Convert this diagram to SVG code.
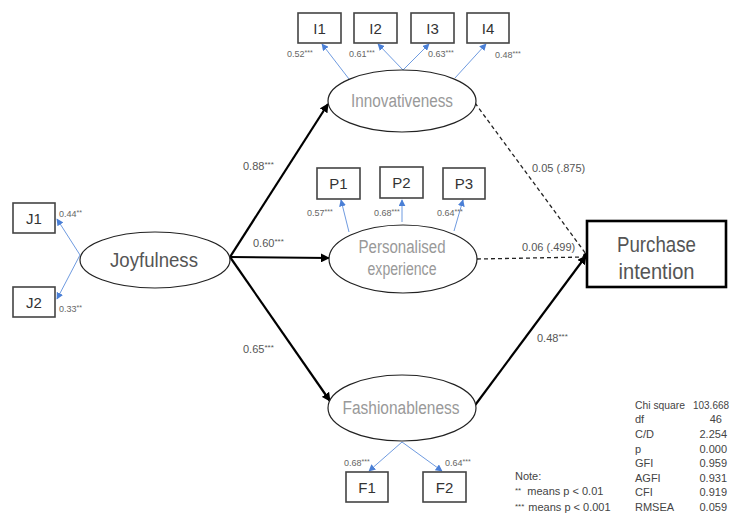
<svg xmlns="http://www.w3.org/2000/svg" width="732" height="519" viewBox="0 0 732 519">
<defs>
<style>
text{font-family:"Liberation Sans Narrow","Liberation Sans",Arial,sans-serif;}
.box{fill:#fff;stroke:#444;stroke-width:1.6;}
.ell{fill:#fff;stroke:#222;stroke-width:1.2;}
.bl{font-size:15px;fill:#333;text-anchor:middle;}
.lat{font-size:18px;fill:#999;text-anchor:middle;}
.sm{font-size:9px;fill:#666;}
.pl{font-size:11px;fill:#555;}
.st{font-size:11px;fill:#444;}
.blue{stroke:#6f9be0;stroke-width:1;fill:none;marker-end:url(#ab);}
.blk{stroke:#000;stroke-width:2.2;fill:none;marker-end:url(#ak);}
.dash{stroke:#222;stroke-width:1.3;fill:none;stroke-dasharray:4 3;}
</style>
<marker id="ab" viewBox="0 0 10 10" refX="9" refY="5" markerWidth="7" markerHeight="7" orient="auto" markerUnits="userSpaceOnUse"><path d="M0,0 L10,5 L0,10 z" fill="#4a7fd6"/></marker>
<marker id="ak" viewBox="0 0 10 10" refX="9" refY="5" markerWidth="9" markerHeight="9" orient="auto" markerUnits="userSpaceOnUse"><path d="M0,0 L10,5 L0,10 z" fill="#000"/></marker>
</defs>
<rect width="732" height="519" fill="#fff"/>
<g id="connectors">
<line class="blue" x1="349" y1="79" x2="322" y2="44"/>
<line class="blue" x1="403" y1="70" x2="378" y2="44"/>
<line class="blue" x1="403" y1="70" x2="429" y2="44"/>
<line class="blue" x1="455" y1="78" x2="486" y2="44"/>
<line class="blue" x1="349" y1="232" x2="341" y2="200"/>
<line class="blue" x1="402" y1="222" x2="402" y2="200"/>
<line class="blue" x1="454" y1="231" x2="463" y2="200"/>
<line class="blue" x1="80" y1="255" x2="57" y2="219"/>
<line class="blue" x1="80" y1="255" x2="57" y2="299"/>
<line class="blue" x1="402" y1="442" x2="369" y2="471"/>
<line class="blue" x1="402" y1="442" x2="442" y2="471"/>
<line class="blk" x1="230" y1="257" x2="328" y2="104"/>
<line class="blk" x1="230" y1="257" x2="329" y2="258"/>
<line class="blk" x1="230" y1="257" x2="330" y2="401"/>
<line class="blk" x1="473" y1="408" x2="586" y2="256"/>
<line class="dash" x1="475" y1="103" x2="586" y2="254"/>
<line class="dash" x1="477" y1="259" x2="586" y2="257"/>
<circle cx="586" cy="256" r="3" fill="#000"/>
<text class="pl" x="243" y="170">0.88<tspan font-size="8" dy="-3">***</tspan></text>
<text class="pl" x="253" y="247">0.60<tspan font-size="8" dy="-3">***</tspan></text>
<text class="pl" x="243" y="353">0.65<tspan font-size="8" dy="-3">***</tspan></text>
<text class="pl" x="532" y="172">0.05 (.875)</text>
<text class="pl" x="522" y="251">0.06 (.499)</text>
<text class="pl" x="537" y="342">0.48<tspan font-size="8" dy="-3">***</tspan></text>
<text class="sm" x="287" y="57">0.52<tspan font-size="7" dy="-2">***</tspan></text>
<text class="sm" x="349" y="57">0.61<tspan font-size="7" dy="-2">***</tspan></text>
<text class="sm" x="428" y="57">0.63<tspan font-size="7" dy="-2">***</tspan></text>
<text class="sm" x="495" y="58">0.48<tspan font-size="7" dy="-2">***</tspan></text>
<text class="sm" x="307" y="216">0.57<tspan font-size="7" dy="-2">***</tspan></text>
<text class="sm" x="374" y="216">0.68<tspan font-size="7" dy="-2">***</tspan></text>
<text class="sm" x="437" y="216">0.64<tspan font-size="7" dy="-2">***</tspan></text>
<text class="sm" x="59" y="217">0.44<tspan font-size="7" dy="-2">**</tspan></text>
<text class="sm" x="59" y="312">0.33<tspan font-size="7" dy="-2">**</tspan></text>
<text class="sm" x="344" y="466">0.68<tspan font-size="7" dy="-2">***</tspan></text>
<text class="sm" x="445" y="466">0.64<tspan font-size="7" dy="-2">***</tspan></text>
</g>
<g id="I1"><rect class="box" x="298" y="13" width="43" height="30"/><text class="bl" x="319.5" y="34">I1</text></g>
<g id="I2"><rect class="box" x="354" y="13" width="43" height="30"/><text class="bl" x="375.5" y="34">I2</text></g>
<g id="I3"><rect class="box" x="411" y="13" width="43" height="30"/><text class="bl" x="432.5" y="34">I3</text></g>
<g id="I4"><rect class="box" x="467" y="13" width="42" height="30"/><text class="bl" x="488" y="34">I4</text></g>
<g id="P1"><rect class="box" x="317" y="168" width="43" height="31"/><text class="bl" x="338.5" y="189">P1</text></g>
<g id="P2"><rect class="box" x="380" y="167" width="43" height="31"/><text class="bl" x="401.5" y="188">P2</text></g>
<g id="P3"><rect class="box" x="443" y="168" width="42" height="31"/><text class="bl" x="464" y="189">P3</text></g>
<g id="J1"><rect class="box" x="13" y="203" width="42" height="30"/><text class="bl" x="34" y="224">J1</text></g>
<g id="J2"><rect class="box" x="13" y="287" width="42" height="30"/><text class="bl" x="34" y="308">J2</text></g>
<g id="F1"><rect class="box" x="346" y="472" width="42" height="30"/><text class="bl" x="367" y="493">F1</text></g>
<g id="F2"><rect class="box" x="423" y="472" width="43" height="30"/><text class="bl" x="444.5" y="493">F2</text></g>
<g id="Innovativeness"><ellipse class="ell" cx="402" cy="101" rx="74" ry="31"/><text class="lat" x="402" y="107" textLength="102" lengthAdjust="spacingAndGlyphs">Innovativeness</text></g>
<g id="Personalised"><ellipse class="ell" cx="403" cy="259" rx="74" ry="34"/><text class="lat" x="402" y="253" textLength="87" lengthAdjust="spacingAndGlyphs">Personalised</text><text class="lat" x="402" y="275" textLength="69" lengthAdjust="spacingAndGlyphs">experience</text></g>
<g id="Fashionableness"><ellipse class="ell" cx="402" cy="408" rx="74" ry="33"/><text class="lat" x="401" y="414" textLength="117" lengthAdjust="spacingAndGlyphs">Fashionableness</text></g>
<g id="Joyfulness"><ellipse class="ell" cx="155" cy="260" rx="75" ry="28"/><text x="154" y="267" font-size="21" fill="#555" text-anchor="middle" textLength="88" lengthAdjust="spacingAndGlyphs">Joyfulness</text></g>
<g id="Purchase"><rect x="587" y="221" width="139" height="66" fill="#fff" stroke="#000" stroke-width="2.6"/><text x="656.5" y="252" font-size="22" fill="#555" text-anchor="middle" textLength="79" lengthAdjust="spacingAndGlyphs">Purchase</text><text x="656.5" y="279" font-size="22" fill="#555" text-anchor="middle" textLength="76" lengthAdjust="spacingAndGlyphs">intention</text></g>
<g id="stats">
<text class="st" x="635" y="409" textLength="50" lengthAdjust="spacingAndGlyphs">Chi square</text><text class="st" x="729" y="409" text-anchor="end" textLength="36" lengthAdjust="spacingAndGlyphs">103.668</text>
<text class="st" x="635" y="423">df</text><text class="st" x="722" y="423" text-anchor="end">46</text>
<text class="st" x="635" y="438">C/D</text><text class="st" x="727" y="438" text-anchor="end">2.254</text>
<text class="st" x="635" y="453">p</text><text class="st" x="727" y="453" text-anchor="end">0.000</text>
<text class="st" x="635" y="467">GFI</text><text class="st" x="727" y="467" text-anchor="end">0.959</text>
<text class="st" x="635" y="482">AGFI</text><text class="st" x="727" y="482" text-anchor="end">0.931</text>
<text class="st" x="635" y="496">CFI</text><text class="st" x="727" y="496" text-anchor="end">0.919</text>
<text class="st" x="635" y="511">RMSEA</text><text class="st" x="727" y="511" text-anchor="end">0.059</text>
<text class="st" x="515" y="480">Note:</text>
<text class="st" x="515" y="495"><tspan font-size="8" dy="-2">**</tspan><tspan dy="2" dx="6">means p &lt; 0.01</tspan></text>
<text class="st" x="515" y="511"><tspan font-size="8" dy="-2">***</tspan><tspan dy="2" dx="4">means p &lt; 0.001</tspan></text>
</g>
</svg>
